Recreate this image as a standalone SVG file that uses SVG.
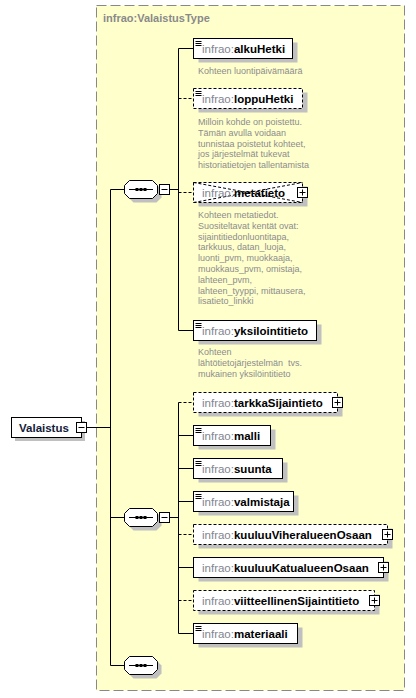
<svg xmlns="http://www.w3.org/2000/svg" xmlns:xlink="http://www.w3.org/1999/xlink" width="416" height="698" viewBox="0 0 416 698">
<style>
.bg{fill:#ffffcc;stroke:#888;stroke-width:1;stroke-dasharray:10,4}
.title{font-family:"Liberation Sans",Arial,sans-serif;font-size:11px;font-weight:bold;fill:#8a8a8a}
.box{fill:#fff;stroke:#000;stroke-width:1}
.opt{stroke-dasharray:3,2}
.sh{fill:#c0c0c0;stroke:none}
.lbl{font-family:"Liberation Sans",Arial,sans-serif;font-size:11.5px}
.pfx{fill:#7f8591;font-weight:normal}
.nm{fill:#000;font-weight:bold}
.doc{font-family:"Liberation Sans",Arial,sans-serif;font-size:9px;fill:#8c8c8c}
.ln{stroke:#000;stroke-width:1;fill:none}
.dl{stroke:#000;stroke-width:1;fill:none;stroke-dasharray:3,2}
.icon{stroke:#000;stroke-width:1}
</style>
<defs>
  <g id="seqshape">
    <polygon class="sh" points="-7.5,-5 15.5,-5 20.5,0 20.5,8 15.5,13 -7.5,13 -12.5,8 -12.5,0"/>
    <polygon class="box" points="-11.5,-9 11.5,-9 16.5,-4 16.5,4 11.5,9 -11.5,9 -16.5,4 -16.5,-4"/>
    <line class="ln" x1="-12" y1="0" x2="12" y2="0"/>
    <rect x="-5.5" y="-1.5" width="3" height="3" fill="#000"/>
    <rect x="-1.5" y="-1.5" width="3" height="3" fill="#000"/>
    <rect x="2.5" y="-1.5" width="3" height="3" fill="#000"/>
  </g>
  <g id="minus">
    <rect class="box" x="-5" y="-5" width="10" height="10"/>
    <line class="ln" x1="-3" y1="0" x2="3" y2="0"/>
  </g>
  <g id="plus">
    <rect class="box" x="-5" y="-5" width="10" height="10"/>
    <line class="ln" x1="-3" y1="0" x2="3" y2="0"/>
    <line class="ln" x1="0" y1="-3" x2="0" y2="3"/>
  </g>
  <g id="docicon">
    <line class="icon" x1="0" y1="0" x2="6" y2="0"/>
    <line class="icon" x1="0" y1="2" x2="6" y2="2"/>
    <line class="icon" x1="0" y1="4" x2="6" y2="4"/>
  </g>
</defs>

<rect class="bg" x="96.5" y="5.5" width="308" height="685"/>
<text class="title" x="103" y="22">infrao:ValaistusType</text>

<g id="connectors">
  <line class="ln" x1="86" y1="427.5" x2="110.5" y2="427.5"/>
  <line class="ln" x1="110.5" y1="189.5" x2="110.5" y2="665.5"/>
  <line class="ln" x1="110.5" y1="189.5" x2="125" y2="189.5"/>
  <line class="ln" x1="110.5" y1="517.5" x2="125" y2="517.5"/>
  <line class="ln" x1="110.5" y1="665.5" x2="125" y2="665.5"/>
  <line class="ln" x1="157" y1="189.5" x2="178.5" y2="189.5"/>
  <line class="ln" x1="157" y1="517.5" x2="178.5" y2="517.5"/>
  <line class="ln" x1="178.5" y1="48.5" x2="178.5" y2="330.5"/>
  <line class="ln" x1="178.5" y1="402.5" x2="178.5" y2="633.5"/>
  <line class="ln" x1="178.5" y1="48.5" x2="193" y2="48.5"/>
  <line class="dl" x1="178.5" y1="98.5" x2="193" y2="98.5"/>
  <line class="dl" x1="178.5" y1="192.5" x2="193" y2="192.5"/>
  <line class="ln" x1="178.5" y1="330.5" x2="193" y2="330.5"/>
  <line class="dl" x1="178.5" y1="402.5" x2="193" y2="402.5"/>
  <line class="ln" x1="178.5" y1="435.5" x2="193" y2="435.5"/>
  <line class="ln" x1="178.5" y1="468.5" x2="193" y2="468.5"/>
  <line class="ln" x1="178.5" y1="501.5" x2="193" y2="501.5"/>
  <line class="dl" x1="178.5" y1="534.5" x2="193" y2="534.5"/>
  <line class="ln" x1="178.5" y1="567.5" x2="193" y2="567.5"/>
  <line class="dl" x1="178.5" y1="600.5" x2="193" y2="600.5"/>
  <line class="ln" x1="178.5" y1="633.5" x2="193" y2="633.5"/>
</g>

<g id="Valaistus">
  <rect class="sh" x="15" y="421" width="70" height="20"/>
  <rect class="box" x="11.5" y="417.5" width="70" height="20"/>
  <text class="lbl" x="19" y="432" font-weight="bold" fill="#13203a">Valaistus</text>
  <use xlink:href="#minus" x="81.5" y="427.5"/>
</g>

<g id="seq1">
  <use xlink:href="#seqshape" x="141" y="189.5"/>
  <use xlink:href="#minus" x="164.5" y="189.5"/>
</g>
<g id="seq2">
  <use xlink:href="#seqshape" x="141" y="517.5"/>
  <use xlink:href="#minus" x="164.5" y="517.5"/>
</g>
<g id="seq3">
  <use xlink:href="#seqshape" x="141" y="665.5"/>
</g>

<g id="alkuHetki">
  <rect class="sh" x="198.5" y="42.5" width="99" height="20"/>
  <rect class="box" x="193.5" y="38.5" width="99" height="20"/>
  <use xlink:href="#docicon" x="195.5" y="41.5"/>
  <text class="lbl" x="202" y="52.5"><tspan class="pfx">infrao:</tspan><tspan class="nm">alkuHetki</tspan></text>
  <text class="doc" x="198" y="74">Kohteen luontipäivämäärä</text>
</g>

<g id="loppuHetki">
  <rect class="sh" x="198.5" y="92.5" width="109" height="20"/>
  <rect class="box opt" x="193.5" y="88.5" width="109" height="20"/>
  <use xlink:href="#docicon" x="195.5" y="91.5"/>
  <text class="lbl" x="202" y="102.5"><tspan class="pfx">infrao:</tspan><tspan class="nm">loppuHetki</tspan></text>
  <text class="doc" x="198" y="125">Milloin kohde on poistettu.</text>
  <text class="doc" x="198" y="135.8">Tämän avulla voidaan</text>
  <text class="doc" x="198" y="146.6">tunnistaa poistetut kohteet,</text>
  <text class="doc" x="198" y="157.4">jos järjestelmät tukevat</text>
  <text class="doc" x="198" y="168.2">historiatietojen tallentamista</text>
</g>

<g id="metatieto">
  <rect class="sh" x="198.5" y="186.5" width="109" height="20"/>
  <rect class="box opt" x="193.5" y="182.5" width="109" height="20"/>
  <line class="dl" x1="193.5" y1="182.5" x2="302.5" y2="202.5"/>
  <line class="dl" x1="193.5" y1="202.5" x2="302.5" y2="182.5"/>
  <text class="lbl" x="202" y="196.5"><tspan class="pfx">infrao:</tspan><tspan class="nm">metatieto</tspan></text>
  <use xlink:href="#plus" x="302.5" y="192.5"/>
  <text class="doc" x="198" y="218">Kohteen metatiedot.</text>
  <text class="doc" x="198" y="228.8">Suositeltavat kentät ovat:</text>
  <text class="doc" x="198" y="239.6">sijaintitiedonluontitapa,</text>
  <text class="doc" x="198" y="250.4">tarkkuus, datan_luoja,</text>
  <text class="doc" x="198" y="261.2">luonti_pvm, muokkaaja,</text>
  <text class="doc" x="198" y="272">muokkaus_pvm, omistaja,</text>
  <text class="doc" x="198" y="282.8">lahteen_pvm,</text>
  <text class="doc" x="198" y="293.6">lahteen_tyyppi, mittausera,</text>
  <text class="doc" x="198" y="304.4">lisatieto_linkki</text>
</g>

<g id="yksilointitieto">
  <rect class="sh" x="198.5" y="324.5" width="123" height="20"/>
  <rect class="box" x="193.5" y="320.5" width="123" height="20"/>
  <use xlink:href="#docicon" x="195.5" y="323.5"/>
  <text class="lbl" x="202" y="334.5"><tspan class="pfx">infrao:</tspan><tspan class="nm">yksilointitieto</tspan></text>
  <text class="doc" x="198" y="355">Kohteen</text>
  <text class="doc" x="198" y="365.8" xml:space="preserve">lähtötietojärjestelmän  tvs.</text>
  <text class="doc" x="198" y="376.6">mukainen yksilöintitieto</text>
</g>

<g id="tarkkaSijaintieto">
  <rect class="sh" x="198.5" y="396.5" width="144" height="20"/>
  <rect class="box opt" x="193.5" y="392.5" width="144" height="20"/>
  <text class="lbl" x="202" y="406.5"><tspan class="pfx">infrao:</tspan><tspan class="nm">tarkkaSijaintieto</tspan></text>
  <use xlink:href="#plus" x="337.5" y="402.5"/>
</g>

<g id="malli">
  <rect class="sh" x="198.5" y="429.5" width="77" height="20"/>
  <rect class="box" x="193.5" y="425.5" width="77" height="20"/>
  <use xlink:href="#docicon" x="195.5" y="428.5"/>
  <text class="lbl" x="202" y="439.5"><tspan class="pfx">infrao:</tspan><tspan class="nm">malli</tspan></text>
</g>

<g id="suunta">
  <rect class="sh" x="198.5" y="462.5" width="89" height="20"/>
  <rect class="box" x="193.5" y="458.5" width="89" height="20"/>
  <use xlink:href="#docicon" x="195.5" y="461.5"/>
  <text class="lbl" x="202" y="472.5"><tspan class="pfx">infrao:</tspan><tspan class="nm">suunta</tspan></text>
</g>

<g id="valmistaja">
  <rect class="sh" x="198.5" y="495.5" width="100" height="20"/>
  <rect class="box" x="193.5" y="491.5" width="100" height="20"/>
  <use xlink:href="#docicon" x="195.5" y="494.5"/>
  <text class="lbl" x="202" y="505.5"><tspan class="pfx">infrao:</tspan><tspan class="nm">valmistaja</tspan></text>
</g>

<g id="kuuluuViheralueenOsaan">
  <rect class="sh" x="198.5" y="528.5" width="194" height="20"/>
  <rect class="box opt" x="193.5" y="524.5" width="194" height="20"/>
  <text class="lbl" x="202" y="538.5"><tspan class="pfx">infrao:</tspan><tspan class="nm">kuuluuViheralueenOsaan</tspan></text>
  <use xlink:href="#plus" x="387.5" y="534.5"/>
</g>

<g id="kuuluuKatualueenOsaan">
  <rect class="sh" x="198.5" y="561.5" width="190" height="20"/>
  <rect class="box" x="193.5" y="557.5" width="190" height="20"/>
  <text class="lbl" x="202" y="571.5"><tspan class="pfx">infrao:</tspan><tspan class="nm">kuuluuKatualueenOsaan</tspan></text>
  <use xlink:href="#plus" x="383.5" y="567.5"/>
</g>

<g id="viitteellinenSijaintitieto">
  <rect class="sh" x="198.5" y="594.5" width="181" height="20"/>
  <rect class="box opt" x="193.5" y="590.5" width="181" height="20"/>
  <text class="lbl" x="202" y="604.5"><tspan class="pfx">infrao:</tspan><tspan class="nm">viitteellinenSijaintitieto</tspan></text>
  <use xlink:href="#plus" x="374.5" y="600.5"/>
</g>

<g id="materiaali">
  <rect class="sh" x="198.5" y="627.5" width="104" height="20"/>
  <rect class="box" x="193.5" y="623.5" width="104" height="20"/>
  <use xlink:href="#docicon" x="195.5" y="626.5"/>
  <text class="lbl" x="202" y="637.5"><tspan class="pfx">infrao:</tspan><tspan class="nm">materiaali</tspan></text>
</g>
</svg>
